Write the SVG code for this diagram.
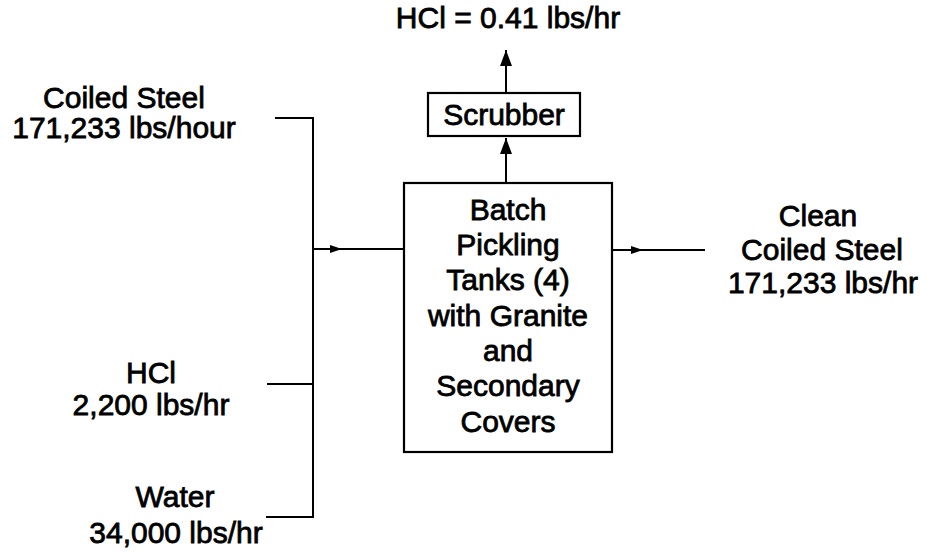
<svg xmlns="http://www.w3.org/2000/svg" width="927" height="553" viewBox="0 0 927 553">
<style>
text{font-family:"Liberation Sans",Arial,sans-serif;font-size:30px;fill:#000;stroke:#000;stroke-width:0.8;text-anchor:middle}
.box{fill:#fff;stroke:#000;stroke-width:2.2}
.ln{fill:none;stroke:#000;stroke-width:2}
</style>
<defs>
<marker id="ah" viewBox="0 0 12 8" refX="12" refY="4" markerWidth="12" markerHeight="8" markerUnits="userSpaceOnUse" orient="auto">
<path d="M0,0 L12,4 L0,8 Z" fill="#000"/>
</marker>
<marker id="au" viewBox="0 0 16 12" refX="16" refY="6" markerWidth="16" markerHeight="12" markerUnits="userSpaceOnUse" orient="auto">
<path d="M0,0 L16,6 L0,12 Z" fill="#000"/>
</marker>
</defs>
<rect width="927" height="553" fill="#fff"/>
<g id="connectors">
<path class="ln" d="M275,118 H313 V517 H266"/>
<path class="ln" d="M267,384 H313"/>
<path class="ln" d="M313,249 H342" marker-end="url(#ah)"/>
<path class="ln" d="M340,249 H404"/>
<path class="ln" d="M612,250 H643" marker-end="url(#ah)"/>
<path class="ln" d="M641,250 H705"/>
<path class="ln" d="M506,183 V138" marker-end="url(#au)"/>
<path class="ln" d="M506,93 V50" marker-end="url(#au)"/>
</g>
<g id="tanks">
<rect class="box" x="404" y="183" width="208" height="269"/>
<text x="508" y="220">Batch</text>
<text x="508" y="255">Pickling</text>
<text x="508" y="290">Tanks (4)</text>
<text x="508" y="326">with Granite</text>
<text x="508" y="361">and</text>
<text x="508" y="396">Secondary</text>
<text x="508" y="432">Covers</text>
</g>
<g id="scrubber">
<rect class="box" x="428" y="93" width="152" height="43"/>
<text x="504" y="125">Scrubber</text>
</g>
<g id="hcl-out">
<text x="508" y="28">HCl = 0.41 lbs/hr</text>
</g>
<g id="coiled-steel">
<text x="124" y="108">Coiled Steel</text>
<text x="124" y="138">171,233 lbs/hour</text>
</g>
<g id="hcl-in">
<text x="151" y="383">HCl</text>
<text x="151" y="415">2,200 lbs/hr</text>
</g>
<g id="water">
<text x="175" y="507">Water</text>
<text x="176" y="543">34,000 lbs/hr</text>
</g>
<g id="clean-steel">
<text x="818" y="226">Clean</text>
<text x="822" y="260">Coiled Steel</text>
<text x="823" y="293">171,233 lbs/hr</text>
</g>
</svg>
